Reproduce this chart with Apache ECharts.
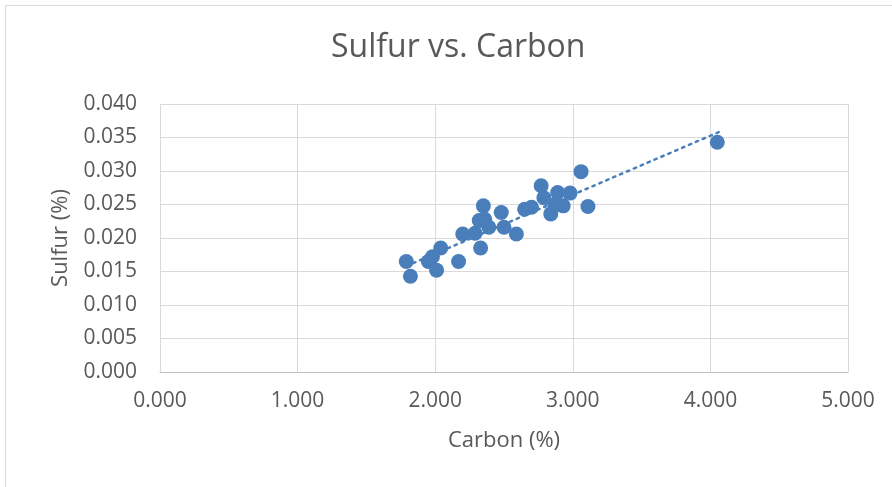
<!DOCTYPE html>
<html>
<head>
<meta charset="utf-8">
<script src="https://cdn.jsdelivr.net/npm/echarts@6/dist/echarts.min.js"></script>
<style>
  html, body { margin: 0; padding: 0; background: #fff; }
  #frame { position: absolute; left: 5px; top: 5px; width: 900px; height: 500px; border: 1px solid #d9d9d9; }
  #chart { position: absolute; left: 0; top: 0; width: 892px; height: 487px; }
</style>
</head>
<body>
<div id="frame"></div>
<div id="chart"></div>
<script>
// carbon (%) and sulfur (%)
const carbon = [1.79, 1.82, 1.95, 1.98, 2.04, 2.01, 2.17, 2.20, 2.33, 2.32, 2.35, 2.29, 2.39, 2.36,
  2.48, 2.50, 2.59, 2.65, 2.70, 2.77, 2.79, 2.84, 2.89, 2.93, 2.98, 2.87, 3.06, 3.11, 4.05]
const sulfur = [0.0165, 0.0143, 0.0165, 0.0172, 0.0185, 0.0152, 0.0165, 0.0206, 0.0185, 0.0226, 0.0248, 0.0207, 0.0216, 0.0228,
  0.0238, 0.0216, 0.0206, 0.0243, 0.0246, 0.0278, 0.0260, 0.0236, 0.0268, 0.0248, 0.0267, 0.0250, 0.0299, 0.0247, 0.0343]

// linear trendline end points
const trendX = [1.79, 4.06]
const trendY = [0.0158, 0.0358]

const textColor = '#595959'
const blue = '#4a7ebb'

const chart = echarts.init(document.getElementById('chart'))

chart.setOption({
  animation: false,
  title: {
    text: 'Sulfur vs. Carbon',
    left: 326,
    top: 27,
    textStyle: { fontFamily: 'Open Sans', fontWeight: 'normal', fontSize: 32, color: textColor }
  },
  grid: { left: 160, right: 44, top: 104, bottom: 115 },
  xAxis: {
    type: 'value',
    min: 0, max: 5, interval: 1,
    name: 'Carbon (%)',
    nameLocation: 'middle',
    nameGap: 58,
    nameTextStyle: { fontFamily: 'Open Sans', fontSize: 22, color: textColor },
    axisLine: { lineStyle: { color: '#bfbfbf' } },
    axisTick: { show: false },
    axisLabel: { formatter: v => v.toFixed(3), fontFamily: 'Open Sans', fontSize: 21, color: textColor, margin: 19 },
    splitLine: { lineStyle: { color: '#d9d9d9' } }
  },
  yAxis: {
    type: 'value',
    min: 0, max: 0.04, interval: 0.005,
    name: 'Sulfur (%)',
    nameLocation: 'middle',
    nameGap: 88,
    nameRotate: 90,
    nameTextStyle: { fontFamily: 'Open Sans', fontSize: 22, color: textColor },
    axisLine: { show: false },
    axisTick: { show: false },
    axisLabel: { formatter: v => v.toFixed(3), fontFamily: 'Open Sans', fontSize: 21, color: textColor, margin: 23 },
    splitLine: { lineStyle: { color: '#d9d9d9' } }
  },
  series: [
    {
      type: 'line',
      data: trendX.map((x, i) => [x, trendY[i]]),
      symbol: 'none',
      lineStyle: { color: blue, width: 2.5, type: [2.5, 5], cap: 'round' },
      z: 1
    },
    {
      type: 'scatter',
      data: carbon.map((c, i) => [c, sulfur[i]]),
      symbol: 'circle',
      symbolSize: 15,
      itemStyle: { color: blue, opacity: 1 },
      z: 2
    }
  ]
})
</script>
</body>
</html>
